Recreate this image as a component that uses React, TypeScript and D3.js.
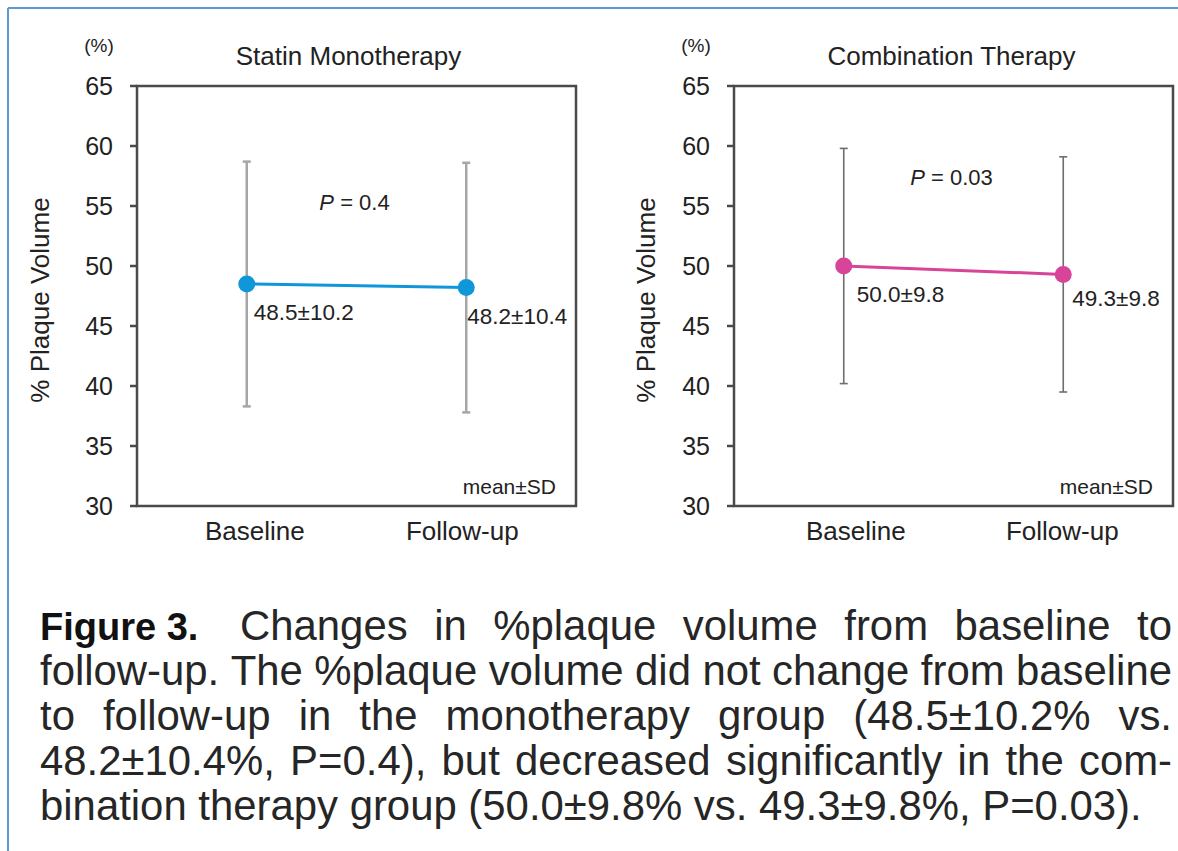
import React from "react";
import * as d3 from "d3";

// values
const categories = ["Baseline", "Follow-up"];
const yTicks = [30, 35, 40, 45, 50, 55, 60, 65];

const monoMean = [48.5, 48.2];
const monoSD = [10.2, 10.4];
const monoLabels = ["48.5±10.2", "48.2±10.4"];

const comboMean = [50.0, 49.3];
const comboSD = [9.8, 9.8];
const comboLabels = ["50.0±9.8", "49.3±9.8"];

const panelTitles = ["Statin Monotherapy", "Combination Therapy"];
const pValues = ["0.4", "0.03"];

const captionBold = "Figure 3.";
const captionLines = [
  "Changes in %plaque volume from baseline to",
  "follow-up. The %plaque volume did not change from baseline",
  "to follow-up in the monotherapy group (48.5±10.2% vs.",
  "48.2±10.4%, P=0.4), but decreased significantly in the com-",
  "bination therapy group (50.0±9.8% vs. 49.3±9.8%, P=0.03).",
];

const FONT = '"Liberation Sans", Arial, sans-serif';

let measureCtx = null;
function textWidth(str, font) {
  if (!measureCtx) measureCtx = document.createElement("canvas").getContext("2d");
  measureCtx.font = font;
  return measureCtx.measureText(str).width;
}

// spread the words of one line between x0 and x1
function justifyLine(line, x0, x1, font) {
  var words = line.split(" ");
  var widths = words.map((w) => textWidth(w, font));
  var total = d3.sum(widths);
  var gap = words.length > 1 ? (x1 - x0 - total) / (words.length - 1) : 0;
  var x = x0;
  return words.map((w, i) => {
    var pos = x;
    x += widths[i] + gap;
    return { word: w, x: pos };
  });
}

function Panel(props) {
  const { left, right, top, bottom, means, sds, labels, color, barColor, barWidth } = props;

  const y = d3.scaleLinear().domain([30, 65]).range([bottom, top]);
  const x = d3.scalePoint().domain(categories).range([left, right]).padding(0.5);

  const line = d3
    .line()
    .x((d, i) => x(categories[i]))
    .y((d) => y(d));

  return (
    <g>
      <text x={(left + right) / 2 + props.titleDx} y={65} textAnchor="middle" fontSize={26} fill="#222">
        {props.title}
      </text>
      <text x={left - 38} y={52} textAnchor="middle" fontSize={19} fill="#222">
        (%)
      </text>
      <text
        transform={`translate(${left + props.yTitleDx},${(top + bottom) / 2 + 4}) rotate(-90)`}
        textAnchor="middle"
        dominantBaseline="central"
        fontSize={26}
        fill="#222"
      >
        % Plaque Volume
      </text>

      {/* error bars */}
      {means.map((m, i) => {
        var cx = x(categories[i]);
        return (
          <g key={"eb" + i} stroke={barColor} strokeWidth={barWidth}>
            <line x1={cx} x2={cx} y1={y(m - sds[i])} y2={y(m + sds[i])} />
            <line x1={cx - 4} x2={cx + 4} y1={y(m - sds[i])} y2={y(m - sds[i])} />
            <line x1={cx - 4} x2={cx + 4} y1={y(m + sds[i])} y2={y(m + sds[i])} />
          </g>
        );
      })}

      <rect x={left} y={top} width={right - left} height={bottom - top} fill="none" stroke="#4a4a4a" strokeWidth={2.5} />

      {yTicks.map((t) => (
        <g key={t}>
          <line x1={left - 7} x2={left} y1={y(t)} y2={y(t)} stroke="#4a4a4a" strokeWidth={2.5} />
          <text x={left - 24} y={y(t)} textAnchor="end" dominantBaseline="central" fontSize={25} fill="#222">
            {t}
          </text>
        </g>
      ))}

      {categories.map((c, i) => (
        <text key={c} x={x(c) + props.catDx[i]} y={540} textAnchor="middle" fontSize={26} fill="#222">
          {c}
        </text>
      ))}

      <path d={line(means)} fill="none" stroke={color} strokeWidth={3} />
      {means.map((m, i) => (
        <circle key={"pt" + i} cx={x(categories[i])} cy={y(m)} r={8.5} fill={color} />
      ))}
      {labels.map((l, i) => (
        <text
          key={"lb" + i}
          x={x(categories[i]) + props.labelDx[i]}
          y={y(means[i]) + props.labelDy[i]}
          dominantBaseline="central"
          fontSize={22.5}
          fill="#222"
        >
          {l}
        </text>
      ))}

      <text x={(left + right) / 2 - 2} y={y(props.pAt)} textAnchor="middle" dominantBaseline="central" fontSize={22} fill="#222">
        <tspan fontStyle="italic">P</tspan>
        {" = " + props.p}
      </text>

      <text x={right - 20} y={494} textAnchor="end" fontSize={21} fill="#222">
        mean±SD
      </text>
    </g>
  );
}

export default function App() {
  const capLeft = 40;
  const capRight = 1172;
  // size the caption so the last (unjustified) line ends where it does in the figure
  const lastLine = captionLines[captionLines.length - 1];
  const capSize = (38 * (1142 - capLeft)) / textWidth(lastLine, `38px ${FONT}`);
  const regFont = `${capSize}px ${FONT}`;
  const baselines = d3.range(captionLines.length).map((i) => 640 + i * 45);

  return (
    <svg
      width={1178}
      height={851}
      style={{ position: "absolute", left: 0, top: 0, background: "#fff" }}
      fontFamily={FONT}
    >
      <rect x={0} y={0} width={1178} height={851} fill="#fff" />
      <line x1={8} x2={1178} y1={8} y2={8} stroke="#5b9bd5" strokeWidth={2} />
      <line x1={8} x2={8} y1={8} y2={851} stroke="#5b9bd5" strokeWidth={2} />

      <Panel
        left={137}
        right={576}
        top={86}
        bottom={506}
        means={monoMean}
        sds={monoSD}
        labels={monoLabels}
        color="#0f97da"
        barColor="#a6a6a6"
        barWidth={2.5}
        title={panelTitles[0]}
        titleDx={-8}
        yTitleDx={-97}
        catDx={[8, -4]}
        labelDx={[7, 1]}
        labelDy={[28, 29]}
        p={pValues[0]}
        pAt={55.3}
      />
      <Panel
        left={734}
        right={1173}
        top={86}
        bottom={506}
        means={comboMean}
        sds={comboSD}
        labels={comboLabels}
        color="#d8449a"
        barColor="#6e6e6e"
        barWidth={1.6}
        title={panelTitles[1]}
        titleDx={-2}
        yTitleDx={-88}
        catDx={[12, -1]}
        labelDx={[13, 9]}
        labelDy={[28, 24]}
        p={pValues[1]}
        pAt={57.4}
      />

      <g fill="#262626">
        <text x={capLeft} y={baselines[0]} fontWeight="bold" fontSize={38} fill="#111">
          {captionBold}
        </text>
        {captionLines.map((line, i) => {
          if (i === captionLines.length - 1) {
            return (
              <text key={i} x={capLeft} y={baselines[i]} fontSize={capSize}>
                {line}
              </text>
            );
          }
          var startX = i === 0 ? 240 : capLeft;
          return justifyLine(line, startX, capRight, regFont).map((w, j) => (
            <text key={i + "-" + j} x={w.x} y={baselines[i]} fontSize={capSize}>
              {w.word}
            </text>
          ));
        })}
      </g>
    </svg>
  );
}
